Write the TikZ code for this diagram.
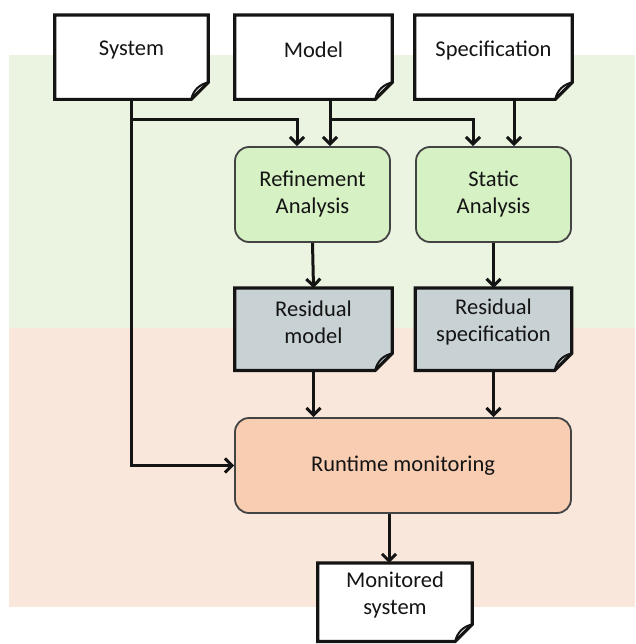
\documentclass[tikz,border=0pt]{standalone}
\usepackage{fontspec}
\setmainfont{Carlito}
\usetikzlibrary{arrows.meta,calc,backgrounds}
\definecolor{bandgreen}{HTML}{EAF4E1}
\definecolor{bandpeach}{HTML}{F9E7DB}
\definecolor{boxgreen}{HTML}{D6F1C3}
\definecolor{boxgray}{HTML}{C8D2D5}
\definecolor{boxpeach}{HTML}{F8CDB2}
\definecolor{ink}{HTML}{141414}
\def\dext{14}
\def\dfold{17}
\begin{document}
\begin{tikzpicture}[x=1pt,y=-1pt,
  font=\fontsize{22.5}{27}\selectfont,
  every node/.style={text=ink},
  doc/.style 2 args={minimum width=#1, minimum height=#2, inner sep=0pt, align=center, anchor=north},
  proc/.style={draw=ink!80, line width=1.8pt, rounded corners=14pt, align=center, inner sep=0pt},
  docline/.style={draw=ink, line width=3.2pt, line join=miter},
  arr/.style={draw=ink, line width=3pt, -{Straight Barb[length=7pt,width=14pt]}}]
\useasboundingbox (0,0) rectangle (635,644);
% bands
\begin{scope}[on background layer]
  \fill[bandgreen] (9,55) rectangle (635,328);
  \fill[bandpeach] (9,328) rectangle (635,607);
\end{scope}
% documents (text body only; outline drawn on background)
\node[doc={153pt}{70pt}] (sys)  at (131.5,15) {System};
\node[doc={157pt}{70pt}] (mod)  at (313.5,15) {Model};
\node[doc={157pt}{70pt}] (spec) at (493.5,15) {Specification};
\node[doc={157pt}{68pt}] (rm)   at (313.5,288) {Residual\\model};
\node[doc={156pt}{68pt}] (rs)   at (493.5,288) {Residual\\specification};
\node[doc={154pt}{64pt}] (mon)  at (395,563) {Monitored\\system};
% processes
\node[proc, fill=boxgreen, minimum width=155pt, minimum height=95pt] (ref)  at (312.5,194.5) {Refinement\\Analysis};
\node[proc, fill=boxgreen, minimum width=155pt, minimum height=95pt] (stat) at (493.5,194.5) {Static\\Analysis};
\node[proc, fill=boxpeach, minimum width=336pt, minimum height=95pt] (run)  at (403,465.5) {Runtime monitoring};
% document outlines
\begin{scope}[on background layer]
\foreach \n/\c in {sys/white,mod/white,spec/white,rm/boxgray,rs/boxgray,mon/white}{
  \filldraw[docline, fill=\c] (\n.north west) -- (\n.north east)
     -- ($(\n.south east)+(0,\dext-\dfold)$)
     -- ($(\n.south east)+(-\dfold,\dext)$)
     -- ($(\n.south west)+(0,\dext)$) -- cycle;
  \draw[ink, line width=2pt] ($(\n.south east)+(0,\dext-\dfold)$)
     .. controls ($(\n.south east)+(-9,\dext-15)$) and ($(\n.south east)+(-15,\dext-9)$)
     .. ($(\n.south east)+(-\dfold,\dext)$);
}
\end{scope}
% connectors
\coordinate (j1) at (131.5,120);
\coordinate (j2) at (330,120);
\draw[arr] (sys.south) ++(0,\dext) |- (run.west);
\draw[arr] (j1) -| ([xshift=-15.5pt]ref.north);
\draw[arr] ([xshift=16.5pt,yshift=-\dext pt]mod.south) -- ([xshift=16.5pt]mod.south |- ref.north);
\draw[arr] (j2) -| ([xshift=-20.5pt]stat.north);
\draw[arr] ([yshift=-\dext pt,xshift=20.5pt]spec.south) -- ([xshift=20.5pt]spec.south |- stat.north);
\draw[arr] (ref.south) -- (rm.north);
\draw[arr] (stat.south) -- (rs.north);
\draw[arr] ([yshift=-\dext pt]rm.south) -- (rm.south |- run.north);
\draw[arr] ([yshift=-\dext pt]rs.south) -- (rs.south |- run.north);
\draw[arr] ([xshift=-14pt]run.south) -- ([xshift=-14pt]run.south |- mon.north);
\end{tikzpicture}
\end{document}
